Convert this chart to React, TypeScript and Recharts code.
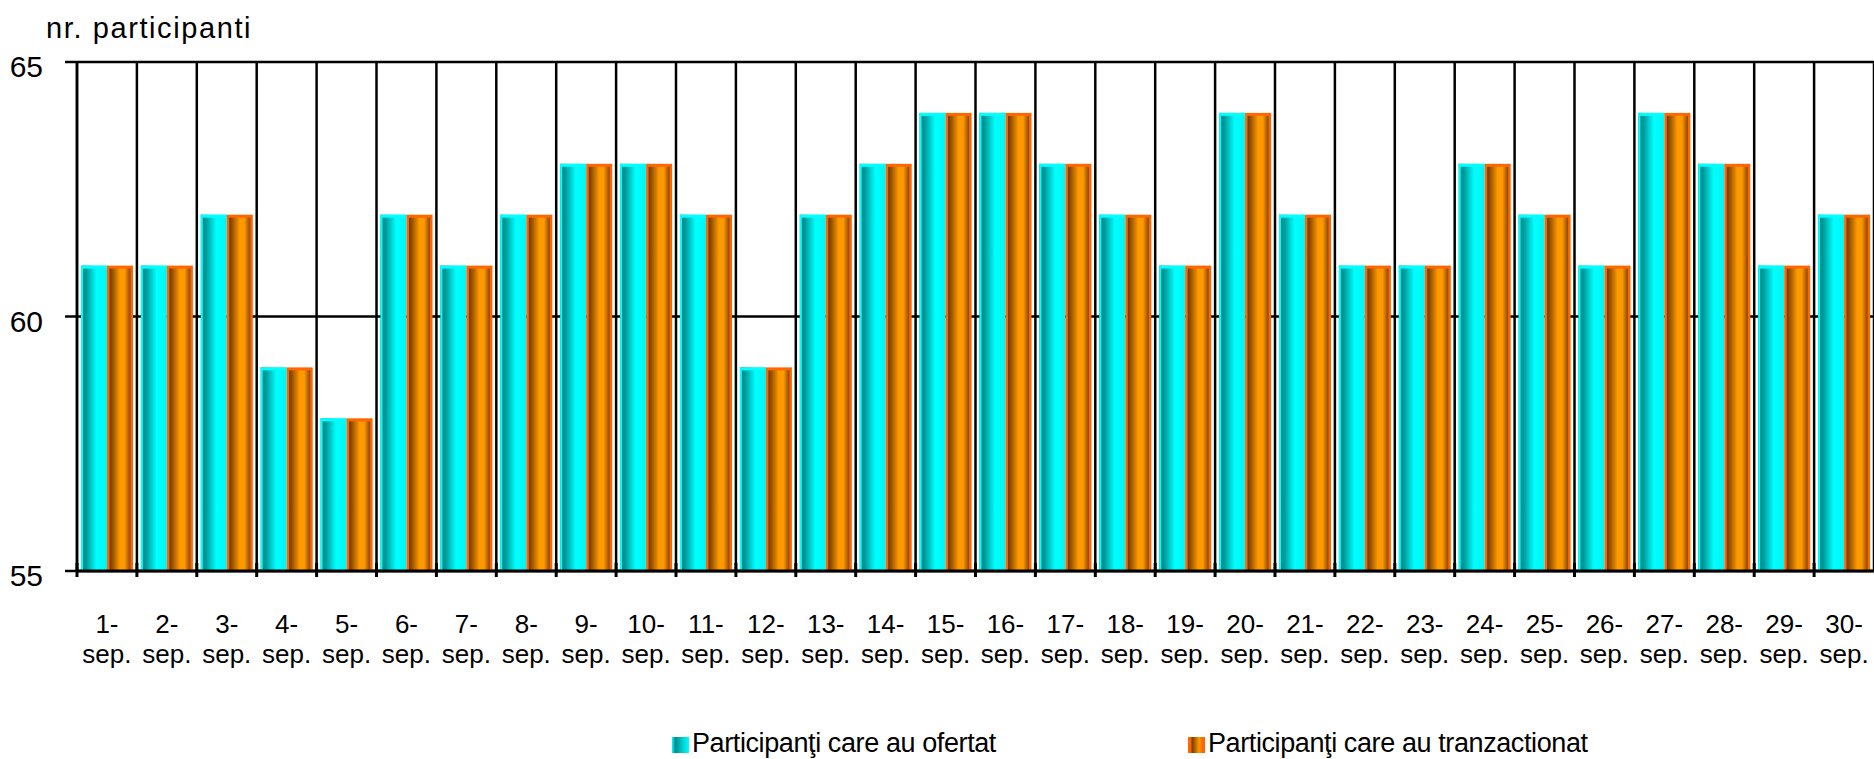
import React from 'react';
import { BarChart, Bar, XAxis, YAxis, CartesianGrid, Legend, Label } from 'recharts';

const days = [
  '1-sep.', '2-sep.', '3-sep.', '4-sep.', '5-sep.', '6-sep.', '7-sep.', '8-sep.', '9-sep.', '10-sep.',
  '11-sep.', '12-sep.', '13-sep.', '14-sep.', '15-sep.', '16-sep.', '17-sep.', '18-sep.', '19-sep.', '20-sep.',
  '21-sep.', '22-sep.', '23-sep.', '24-sep.', '25-sep.', '26-sep.', '27-sep.', '28-sep.', '29-sep.', '30-sep.',
];

const ofertat = [61, 61, 62, 59, 58, 62, 61, 62, 63, 63, 62, 59, 62, 63, 64, 64, 63, 62, 61, 64, 62, 61, 61, 63, 62, 61, 64, 63, 61, 62];
const tranzactionat = [61, 61, 62, 59, 58, 62, 61, 62, 63, 63, 62, 59, 62, 63, 64, 64, 63, 62, 61, 64, 62, 61, 61, 63, 62, 61, 64, 63, 61, 62];

const yTicks = [55, 60, 65];

const data = days.map((day, i) => ({ day, ofertat: ofertat[i], tranzactionat: tranzactionat[i] }));

const FONT = 'Arial, "Liberation Sans", sans-serif';

// bars in the original sink a few px below the 55 axis line
const CyanBar = (props: any) => {
  const { x, y, width, height } = props;
  if (!height || height <= 0) return null;
  return (
    <g>
      <rect x={x} y={y} width={width} height={height + 5} fill="url(#gradCyan)" />
      <rect x={x} y={y} width={width} height={3} fill="#00ffff" />
      <rect x={x} y={y} width={2} height={height + 5} fill="#00ffff" />
    </g>
  );
};

const OrangeBar = (props: any) => {
  const { x, y, width, height } = props;
  if (!height || height <= 0) return null;
  return (
    <g>
      <rect x={x} y={y} width={width} height={height + 5} fill="#ff6600" />
      <rect x={x + 2.5} y={y + 3} width={width - 5} height={height + 2} fill="url(#gradOrange)" />
    </g>
  );
};

const XTick = (props: any) => {
  const { x, y, payload } = props;
  const half = payload && payload.offset ? payload.offset : 29.95;
  const [num, rest] = String(payload.value).split('-');
  return (
    <g>
      <line x1={x - half} x2={x - half} y1={y - 16} y2={y - 2} stroke="#000" strokeWidth={3} />
      <text x={x} y={y} textAnchor="middle" fontFamily={FONT} fontSize={26} fill="#000">
        <tspan x={x} dy={54}>{num + '-'}</tspan>
        <tspan x={x} dy={30}>{rest}</tspan>
      </text>
    </g>
  );
};

const YTick = (props: any) => {
  const { y, payload } = props;
  return (
    <text x={43} y={y} dy={15} textAnchor="end" fontFamily={FONT} fontSize={30} fill="#000">
      {payload.value}
    </text>
  );
};

const LegendContent = (props: any) => {
  const { payload } = props;
  const lefts = [672, 1188];
  const marks: Record<string, string> = {
    ofertat: 'linear-gradient(to right, #00ffff 0%, #008b8b 20%, #00cccc 60%, #00ffff 100%)',
    tranzactionat: 'linear-gradient(to right, #ff6600 0%, #ff6600 15%, #7a3d00 25%, #ff9900 65%, #ff6600 85%)',
  };
  return (
    <div style={{ position: 'relative', height: 31, width: 1874 }}>
      {(payload || []).map((p: any, i: number) => (
        <div
          key={p.value}
          style={{ position: 'absolute', left: lefts[i], top: 0, height: 31, display: 'flex', alignItems: 'center' }}
        >
          <span
            style={{
              display: 'inline-block',
              width: 17,
              height: 16,
              background: marks[p.dataKey],
              marginRight: 3,
              marginTop: 2,
            }}
          />
          <span style={{ fontFamily: FONT, fontSize: 27, color: '#000', lineHeight: '31px', letterSpacing: -0.4 }}>
            {p.value}
          </span>
        </div>
      ))}
    </div>
  );
};

const verticalCoords = ({ offset }: any) => {
  const n = days.length;
  const step = offset.width / n;
  return Array.from({ length: n + 1 }, (_, i) => offset.left + i * step);
};

export default function App() {
  return (
    <div style={{ position: 'absolute', left: 0, top: 0, background: '#fff' }}>
      <BarChart
        width={1874}
        height={759}
        data={data}
        margin={{ top: 62, right: 0, left: 0, bottom: 0 }}
        barCategoryGap={4}
        barGap={0}
      >
        <defs>
          <linearGradient id="gradCyan" x1="0" y1="0" x2="1" y2="0">
            <stop offset="0%" stopColor="#007f7f" />
            <stop offset="20%" stopColor="#009a9a" />
            <stop offset="60%" stopColor="#00ffff" />
            <stop offset="100%" stopColor="#00f5f5" />
          </linearGradient>
          <linearGradient id="gradOrange" x1="0" y1="0" x2="1" y2="0">
            <stop offset="0%" stopColor="#6e3700" />
            <stop offset="50%" stopColor="#ff9900" />
            <stop offset="72%" stopColor="#ff9900" />
            <stop offset="100%" stopColor="#8a4500" />
          </linearGradient>
        </defs>
        <CartesianGrid
          stroke="#000"
          strokeWidth={2.5}
          verticalCoordinatesGenerator={verticalCoords}
        />
        <YAxis
          domain={[55, 65]}
          ticks={yTicks}
          width={77}
          tickSize={12}
          tickLine={{ stroke: '#000', strokeWidth: 2.5 }}
          axisLine={{ stroke: '#000', strokeWidth: 2.5 }}
          tick={<YTick />}
          allowDataOverflow
        >
          <Label
            content={() => (
              <text x={46} y={38} fontFamily={FONT} fontSize={29} letterSpacing={1.6} fill="#000">
                nr. participanti
              </text>
            )}
          />
        </YAxis>
        <Bar dataKey="ofertat" name="Participanţi care au ofertat" fill="#00ffff" shape={<CyanBar />} isAnimationActive={false} />
        <Bar dataKey="tranzactionat" name="Participanţi care au tranzactionat" fill="#ff9900" shape={<OrangeBar />} isAnimationActive={false} />
        <XAxis
          dataKey="day"
          interval={0}
          height={157}
          tickLine={false}
          axisLine={{ stroke: '#000', strokeWidth: 3 }}
          tick={<XTick />}
        />
        <Legend verticalAlign="bottom" content={<LegendContent />} />
      </BarChart>
    </div>
  );
}
